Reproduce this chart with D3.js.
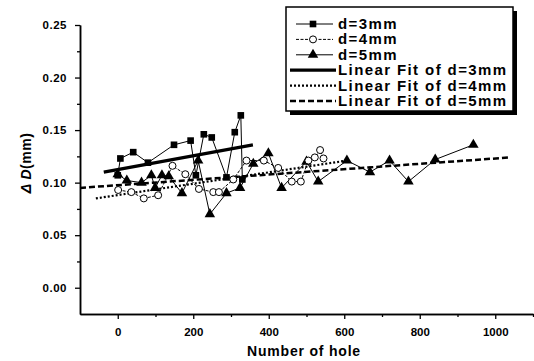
<!DOCTYPE html>
<html><head><meta charset="utf-8">
<script src="https://cdn.jsdelivr.net/npm/d3@7/dist/d3.min.js"></script>
<style>body{margin:0;background:#fff}svg{display:block}</style>
</head><body><svg id="c" width="534" height="361"></svg>
<script>
// d=3mm (squares)
const sqX = [0,7,41,80,149,193,207,228,249,288,310,326,330];
const sqY = [0.107,0.123,0.129,0.119,0.136,0.140,0.107,0.146,0.143,0.105,0.148,0.164,0.103];
// d=4mm (circles)
const ciX = [1,36,69,107,145,179,215,253,268,306,341,387,425,461,485,505,522,536,545];
const ciY = [0.093,0.091,0.085,0.088,0.116,0.108,0.094,0.091,0.091,0.103,0.121,0.121,0.114,0.101,0.101,0.121,0.124,0.131,0.123];
// d=5mm (triangles)
const trX = [0,24,63,89,99,117,135,170,213,244,288,324,359,399,434,500,531,607,668,720,770,841,942];
const trY = [0.108,0.102,0.100,0.107,0.095,0.107,0.106,0.090,0.121,0.070,0.090,0.095,0.118,0.128,0.095,0.120,0.101,0.121,0.110,0.121,0.101,0.122,0.136];
// linear fits (endpoints)
const fit3X = [-37,358], fit3Y = [0.110,0.136];
const fit4X = [-58,607], fit4Y = [0.085,0.121];
const fit5X = [-100,1040], fit5Y = [0.095,0.124];
const xTicks = [0,200,400,600,800,1000];
const yTicks = [0.00,0.05,0.10,0.15,0.20,0.25];
const legendLabels = ["d=3mm","d=4mm","d=5mm","Linear Fit of d=3mm","Linear Fit of d=4mm","Linear Fit of d=5mm"];

const svg = d3.select("#c");
const x = d3.scaleLinear().domain([-100,1100]).range([80,533]);
const y = d3.scaleLinear().domain([-0.025,0.25]).range([314,25]);
const font = "'Liberation Sans', Arial, sans-serif";

// axes
const xa = svg.append("g").attr("transform","translate(0,314)")
  .call(d3.axisBottom(x).tickValues(xTicks).tickFormat(d3.format("d")).tickSize(5).tickSizeOuter(0));
const xm = svg.append("g").attr("transform","translate(0,314)")
  .call(d3.axisBottom(x).tickValues([100,300,500,700,900,1100]).tickFormat("").tickSize(3).tickSizeOuter(0));
const ya = svg.append("g").attr("transform","translate(80,0)")
  .call(d3.axisLeft(y).tickValues(yTicks).tickFormat(d3.format(".2f")).tickSize(5).tickSizeOuter(0));
const ym = svg.append("g").attr("transform","translate(80,0)")
  .call(d3.axisLeft(y).tickValues([0.025,0.075,0.125,0.175,0.225]).tickFormat("").tickSize(3).tickSizeOuter(0));
[xa,xm,ya,ym].forEach(g=>{
  g.selectAll("path").attr("stroke","#000").attr("stroke-width",1.5);
  g.selectAll("line").attr("stroke","#000").attr("stroke-width",1.3);
  g.selectAll("text").attr("font-family",font).attr("font-weight","bold").attr("font-size",11.5).attr("fill","#000");
});
xa.selectAll("text").attr("dy","1.2em");
ya.selectAll("text").attr("dx","-5").attr("letter-spacing","0.5");

svg.append("text").attr("x",304).attr("y",356).attr("text-anchor","middle").attr("letter-spacing","0.8")
  .attr("font-family",font).attr("font-weight","bold").attr("font-size",14).text("Number of hole");
const yt = svg.append("text").attr("transform","translate(31,163) rotate(-90)").attr("text-anchor","middle")
  .attr("font-family",font).attr("font-weight","bold").attr("font-size",14).attr("letter-spacing","0.5");
yt.append("tspan").attr("font-style","italic").text("Δ D");
yt.append("tspan").text("(mm)");

const line = d3.line().x(d=>x(d[0])).y(d=>y(d[1]));
const zip = (a,b)=>a.map((v,i)=>[v,b[i]]);

// fit lines
svg.append("path").datum(zip(fit5X,fit5Y)).attr("d",line).attr("stroke","#000").attr("stroke-width",2.5).attr("stroke-dasharray","6,3").attr("fill","none");
svg.append("path").datum(zip(fit4X,fit4Y)).attr("d",line).attr("stroke","#000").attr("stroke-width",2.2).attr("stroke-dasharray","2,2").attr("fill","none");
svg.append("path").datum(zip(fit3X,fit3Y)).attr("d",line).attr("stroke","#000").attr("stroke-width",3.2).attr("fill","none");

// series lines
svg.append("path").datum(zip(trX,trY)).attr("d",line).attr("stroke","#000").attr("stroke-width",1).attr("fill","none");
svg.append("path").datum(zip(ciX,ciY)).attr("d",line).attr("stroke","#000").attr("stroke-width",1).attr("stroke-dasharray","3,1.5").attr("fill","none");
svg.append("path").datum(zip(sqX,sqY)).attr("d",line).attr("stroke","#000").attr("stroke-width",1).attr("fill","none");

const tri = d3.symbol().type(d3.symbolTriangle).size(48);
const sq = d3.symbol().type(d3.symbolSquare).size(44);
svg.append("g").selectAll("path").data(zip(trX,trY)).join("path")
  .attr("transform",d=>`translate(${x(d[0])},${y(d[1])})`).attr("d",tri).attr("fill","#000");
svg.append("g").selectAll("circle").data(zip(ciX,ciY)).join("circle")
  .attr("cx",d=>x(d[0])).attr("cy",d=>y(d[1])).attr("r",3.5).attr("fill","#fff").attr("stroke","#000").attr("stroke-width",1);
svg.append("g").selectAll("path").data(zip(sqX,sqY)).join("path")
  .attr("transform",d=>`translate(${x(d[0])},${y(d[1])})`).attr("d",sq).attr("fill","#000");

// legend
const lg = svg.append("g");
lg.append("rect").attr("x",290).attr("y",11).attr("width",227).attr("height",104).attr("fill","#000");
lg.append("rect").attr("x",286).attr("y",7).attr("width",227).attr("height",104).attr("fill","#fff").attr("stroke","#000").attr("stroke-width",1.5);
const rowY = i => 24 + i*15.4;
legendLabels.forEach((t,i)=>{
  const ry = rowY(i);
  lg.append("text").attr("x",338).attr("y",ry+5).attr("font-family",font).attr("font-weight","bold")
    .attr("font-size",15).attr("letter-spacing","1.4").text(t);
});
// marker rows
[[0,"sq"],[1,"ci"],[2,"tr"]].forEach(([i,k])=>{
  const ry = rowY(i);
  lg.append("line").attr("x1",296).attr("x2",333).attr("y1",ry).attr("y2",ry).attr("stroke","#000").attr("stroke-width",1)
    .attr("stroke-dasharray",k==="ci"?"3,1.5":null);
  if(k==="sq") lg.append("path").attr("transform",`translate(313,${ry})`).attr("d",sq).attr("fill","#000");
  if(k==="ci") lg.append("circle").attr("cx",313).attr("cy",ry).attr("r",3.5).attr("fill","#fff").attr("stroke","#000");
  if(k==="tr") lg.append("path").attr("transform",`translate(313,${ry})`).attr("d",tri).attr("fill","#000");
});
const fitStyles = [[3.2,null],[2.2,"2,2"],[2.5,"6,3"]];
fitStyles.forEach(([w,da],j)=>{
  const ry = rowY(3+j);
  lg.append("line").attr("x1",290).attr("x2",336).attr("y1",ry).attr("y2",ry).attr("stroke","#000").attr("stroke-width",w)
    .attr("stroke-dasharray",da);
});
</script></body></html>
